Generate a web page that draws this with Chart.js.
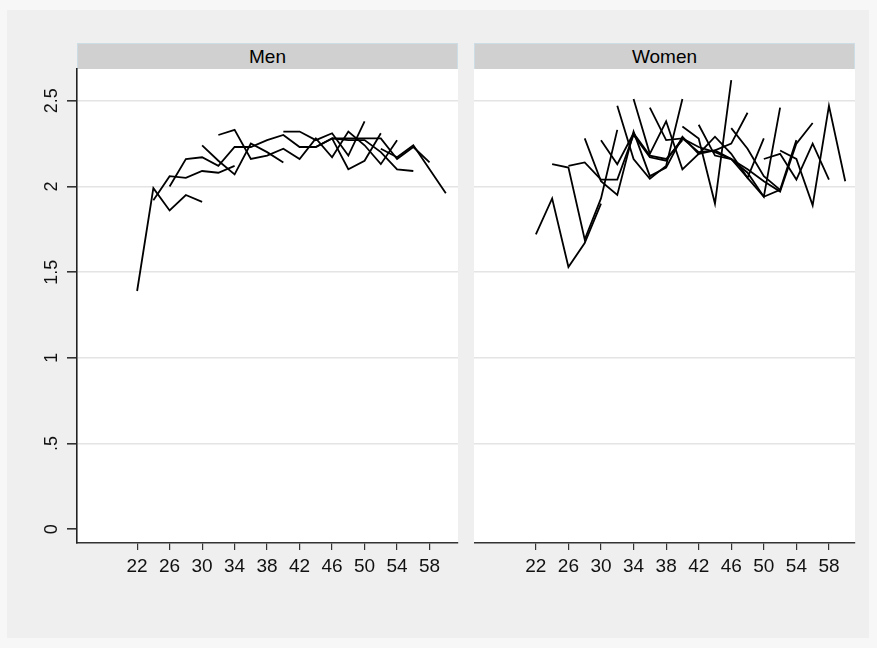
<!DOCTYPE html>
<html>
<head>
<meta charset="utf-8">
<script src="https://cdn.jsdelivr.net/npm/chart.js@4.4.1/dist/chart.umd.min.js"></script>
<style>
  html, body { margin: 0; padding: 0; }
  body { width: 877px; height: 648px; background: #f7f7f7; position: relative; overflow: hidden; font-family: 'Liberation Sans', Arial, sans-serif; }
  #frame { position: absolute; left: 7px; top: 10px; width: 862px; height: 628px; background: #efefef; }
  .strip { position: absolute; top: 43px; height: 25px; width: 379px; background: #d0d0d0; border: 1px solid #cddde6;
           text-align: center; line-height: 26px; font-size: 19px; color: #000; }
  canvas { position: absolute; top: 0; }
</style>
</head>
<body>
<div id="frame"></div>
<div class="strip" style="left:77px">Men</div>
<div class="strip" style="left:474px">Women</div>
<canvas id="menChart" width="470" height="648" style="left:0"></canvas>
<canvas id="womenChart" width="396" height="648" style="left:474px"></canvas>
<script>
// x ticks and y ticks
const xTicks = [22, 26, 30, 34, 38, 42, 46, 50, 54, 58];
const yTicks = [0, 0.5, 1, 1.5, 2, 2.5];
const yTickLabels = ['0', '.5', '1', '1.5', '2', '2.5'];

// each line starts at an age and goes up in steps of 2 years
const menStart = [22, 24, 26, 30, 32, 40, 44, 46, 52];
const menValues = [
    [1.39, 1.99, 1.86, 1.95, 1.91],
    [1.92, 2.06, 2.05, 2.09, 2.08, 2.12],
    [2.00, 2.16, 2.17, 2.12, 2.23, 2.23, 2.27, 2.30, 2.23, 2.23, 2.28, 2.27, 2.27, 2.20, 2.10, 2.09],
    [2.24, 2.15, 2.07, 2.25, 2.20, 2.14],
    [2.30, 2.33, 2.16, 2.18, 2.22, 2.16, 2.28, 2.17, 2.32, 2.24, 2.13, 2.27],
    [2.32, 2.32, 2.27, 2.31, 2.18, 2.38],
    [2.23, 2.28, 2.10, 2.15, 2.31],
    [2.28, 2.28, 2.28, 2.28, 2.16, 2.23, 2.14],
    [2.22, 2.17, 2.24, 2.10, 1.96]
];

const womenStart = [22, 24, 26, 28, 30, 32, 34, 36, 40, 42, 46, 50, 52];
const womenValues = [
    [1.72, 1.93, 1.53, 1.67, 1.90],
    [2.13, 2.11, 1.69, 1.93, 2.33],
    [2.12, 2.14, 2.04, 2.04, 2.30, 2.17, 2.15, 2.28, 2.20, 2.21, 2.25, 2.43],
    [2.28, 2.03, 1.95, 2.32, 2.06, 2.11, 2.29, 2.19, 2.29, 2.19, 2.05, 1.94, 1.98, 2.27],
    [2.27, 2.13, 2.31, 2.18, 2.16, 2.27],
    [2.47, 2.16, 2.045, 2.12, 2.51],
    [2.51, 2.19, 2.38, 2.10, 2.19, 2.21, 2.16, 2.08, 1.94, 2.46],
    [2.46, 2.27, 2.28, 2.23, 2.20, 2.16, 2.05, 2.28],
    [2.35, 2.28, 1.90, 2.62],
    [2.36, 2.18, 2.16, 2.10, 2.03, 1.97, 2.25, 2.37],
    [2.34, 2.22, 2.06, 1.98],
    [2.16, 2.19, 2.04, 2.25, 2.04],
    [2.21, 2.16, 1.89, 2.47, 2.03]
];

const FONT = "'Liberation Sans', Arial, sans-serif";

function toPoints(start, vals) {
    return vals.map((v, i) => ({ x: start + 2 * i, y: v }));
}

// white plot region
const plotBg = {
    id: 'plotBg',
    beforeDraw(chart) {
        const a = chart.chartArea;
        const ctx = chart.ctx;
        ctx.save();
        ctx.fillStyle = '#ffffff';
        ctx.fillRect(a.left, a.top, a.right - a.left, a.bottom - a.top);
        ctx.restore();
    }
};

// vertical y labels like Stata
const yLabels = {
    id: 'yLabels',
    afterDraw(chart) {
        const scale = chart.scales.y;
        const ctx = chart.ctx;
        ctx.save();
        ctx.fillStyle = '#111';
        ctx.font = '18px ' + FONT;
        ctx.textAlign = 'center';
        ctx.textBaseline = 'middle';
        yTicks.forEach((v, i) => {
            ctx.save();
            ctx.translate(52, scale.getPixelForValue(v));
            ctx.rotate(-Math.PI / 2);
            ctx.fillText(yTickLabels[i], 0, 0);
            ctx.restore();
        });
        ctx.restore();
    }
};

function makePanel(id, starts, values, isMen, xMin, xMax, padRight) {
    const ctx = document.getElementById(id).getContext('2d');
    new Chart(ctx, {
        type: 'line',
        data: {
            datasets: values.map((vals, i) => ({
                data: toPoints(starts[i], vals),
                borderColor: '#000',
                borderWidth: 1.8,
                pointRadius: 0,
                tension: 0,
                fill: false
            }))
        },
        options: {
            responsive: false,
            animation: false,
            layout: { padding: { left: 0, right: padRight, top: 69, bottom: 0 } },
            plugins: {
                legend: { display: false },
                tooltip: { enabled: false }
            },
            scales: {
                x: {
                    type: 'linear',
                    min: xMin,
                    max: xMax,
                    afterBuildTicks: s => { s.ticks = xTicks.map(v => ({ value: v })); },
                    afterFit: s => { s.height = 105; },
                    grid: { drawOnChartArea: false, tickLength: 7, tickColor: '#333', lineWidth: 1.2 },
                    border: { color: '#333', width: 1.6 },
                    ticks: {
                        color: '#111',
                        font: { family: FONT, size: 19 },
                        padding: 5,
                        maxRotation: 0,
                        autoSkip: false
                    }
                },
                y: {
                    type: 'linear',
                    min: -0.08,
                    max: 2.685,
                    afterBuildTicks: s => { s.ticks = yTicks.map(v => ({ value: v })); },
                    afterFit: s => { s.width = isMen ? 77 : 0; },
                    grid: {
                        color: c => (c.tick && c.tick.value === 0) ? 'rgba(0,0,0,0)' : '#e4e4e4',
                        lineWidth: 1.6,
                        drawTicks: isMen,
                        tickLength: 10,
                        tickColor: '#333'
                    },
                    border: { display: isMen, color: '#222', width: 1.6 },
                    ticks: { display: false }
                }
            }
        },
        plugins: isMen ? [plotBg, yLabels] : [plotBg]
    });
}

makePanel('menChart', menStart, menValues, true, 14.6, 61.5, 12);
makePanel('womenChart', womenStart, womenValues, false, 14.4, 61.2, 15);
</script>
</body>
</html>
